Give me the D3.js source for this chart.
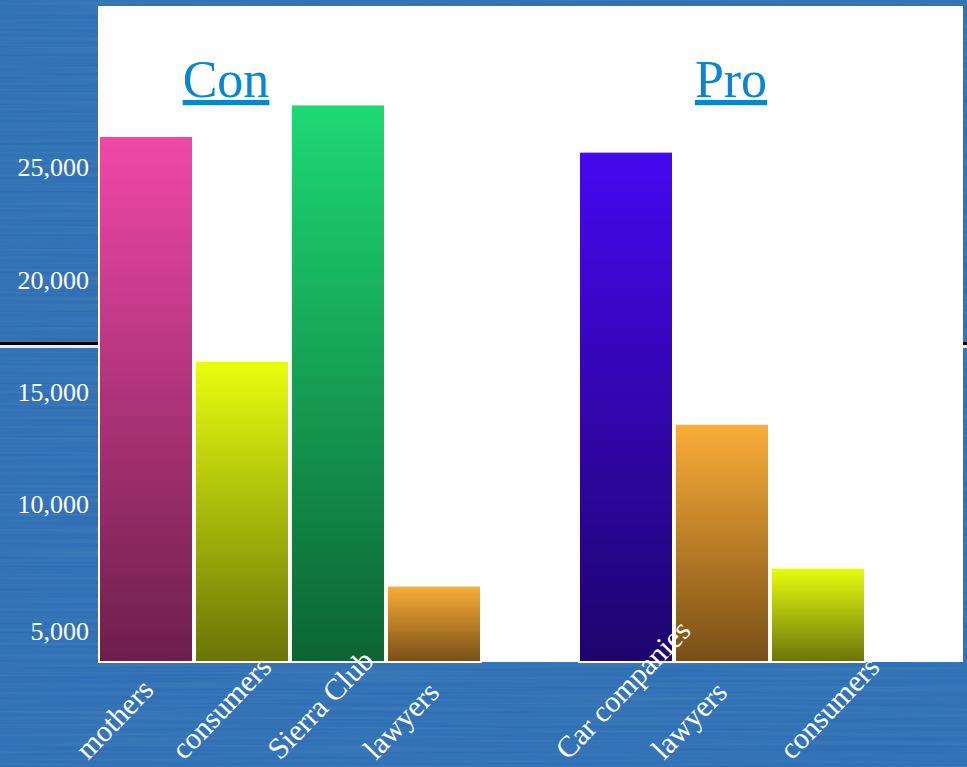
<!DOCTYPE html>
<html>
<head>
<meta charset="utf-8">
<script src="https://cdn.jsdelivr.net/npm/d3@7"></script>
<style>
  html, body { margin: 0; padding: 0; overflow: hidden; }
  svg { display: block; }
</style>
</head>
<body>
<div id="chart"></div>
<script>
// Chart data
const conLabels = ["mothers", "consumers", "Sierra Club", "lawyers"];
const conValues = [26400, 16400, 27800, 6400];
const conColors = ["pink", "yellow", "green", "orange"];

const proLabels = ["Car companies", "lawyers", "consumers"];
const proValues = [25700, 13600, 7200];
const proColors = ["purple", "orange", "yellow"];

const groupTitles = ["Con", "Pro"];
const yTicks = [5000, 10000, 15000, 20000, 25000];

// gradient stops (top, bottom) for each colour key
const gradients = {
    pink:   ["#f048a8", "#6c1f4b"],
    yellow: ["#e8ff0e", "#6a7408"],
    green:  ["#1ed974", "#0c6432"],
    orange: ["#fbae38", "#784e17"],
    purple: ["#4608f0", "#1e046c"]
};

const width = 967, height = 767;
const plot = { left: 98, right: 963, top: 6, bottom: 662 };

const svg = d3.select("#chart").append("svg")
    .attr("width", width)
    .attr("height", height);

const defs = svg.append("defs");

// streaky blue background texture
const tex = defs.append("filter").attr("id", "streaks")
    .attr("x", 0).attr("y", 0).attr("width", 1).attr("height", 1);
tex.append("feTurbulence")
    .attr("type", "fractalNoise")
    .attr("baseFrequency", "0.004 0.35")
    .attr("numOctaves", 2)
    .attr("seed", 3);
tex.append("feColorMatrix")
    .attr("type", "matrix")
    .attr("values", "0 0 0 0 0.1  0 0 0 0 0.3  0 0 0 0 0.55  0 0 0 0.9 -0.25");

Object.entries(gradients).forEach(([key, [top, bottom]]) => {
    const g = defs.append("linearGradient")
        .attr("id", "grad-" + key)
        .attr("x1", 0).attr("y1", 0).attr("x2", 0).attr("y2", 1);
    g.append("stop").attr("offset", "0%").attr("stop-color", top);
    g.append("stop").attr("offset", "100%").attr("stop-color", bottom);
});

// background
svg.append("rect").attr("width", width).attr("height", height).attr("fill", "#2f6fb4");
svg.append("rect").attr("width", width).attr("height", height)
    .attr("filter", "url(#streaks)").attr("opacity", 0.6);

// horizontal divider line behind the plot area
svg.append("rect").attr("x", 0).attr("y", 342).attr("width", width).attr("height", 3).attr("fill", "#000");
svg.append("rect").attr("x", 0).attr("y", 345).attr("width", width).attr("height", 3).attr("fill", "#e8eef6");

// plot area
svg.append("rect")
    .attr("x", plot.left).attr("y", plot.top)
    .attr("width", plot.right - plot.left)
    .attr("height", plot.bottom - plot.top)
    .attr("fill", "#fff");

// scales: 9 slots, gap after the Con group and at the end
const nSlots = conLabels.length + 1 + proLabels.length + 1;
const x = d3.scaleBand()
    .domain(d3.range(nSlots))
    .range([plot.left, plot.left + 96 * nSlots])
    .padding(0);

const y = d3.scaleLinear()
    .domain([3000, 32000])
    .range([plot.bottom, 10]);

const bars = conLabels.map((label, i) => ({ label, value: conValues[i], color: conColors[i], slot: i }))
    .concat(proLabels.map((label, i) => ({ label, value: proValues[i], color: proColors[i], slot: conLabels.length + 1 + i })));

// bars
svg.append("g")
    .selectAll("rect")
    .data(bars)
    .join("rect")
    .attr("x", d => x(d.slot) + 1)
    .attr("y", d => y(d.value))
    .attr("width", x.bandwidth() - 2)
    .attr("height", d => y(3000) - y(d.value))
    .attr("fill", d => "url(#grad-" + d.color + ")")
    .attr("stroke", "#fff")
    .attr("stroke-width", 2);

// y axis
const yAxis = svg.append("g")
    .attr("transform", `translate(${plot.left},0)`)
    .call(d3.axisLeft(y).tickValues(yTicks).tickSize(0).tickPadding(9).tickFormat(d3.format(",")));
yAxis.select(".domain").remove();
yAxis.selectAll("text")
    .attr("fill", "#fff")
    .attr("font-family", "'Liberation Serif', 'Times New Roman', serif")
    .attr("font-size", 26)
    .attr("dy", d => d === yTicks[0] ? "0.85em" : "0.32em");

// category labels, rotated
svg.append("g")
    .selectAll("text")
    .data(bars)
    .join("text")
    .attr("transform", (d, i) => {
        const lx = x(d.slot) + x.bandwidth() / 2 - 58 + (i === bars.length - 1 ? 32 : 0);
        return `translate(${lx},761) rotate(-46)`;
    })
    .attr("text-anchor", "start")
    .attr("fill", "#fff")
    .attr("font-family", "'Liberation Serif', 'Times New Roman', serif")
    .attr("font-size", 30)
    .text(d => d.label);

// group titles
const titleX = [226, 731];
svg.append("g")
    .selectAll("text")
    .data(groupTitles)
    .join("text")
    .attr("x", (d, i) => titleX[i])
    .attr("y", 97)
    .attr("text-anchor", "middle")
    .attr("fill", "#0886cf")
    .attr("font-family", "'Liberation Serif', 'Times New Roman', serif")
    .attr("font-size", 52)
    .attr("text-decoration", "underline")
    .text(d => d);
</script>
</body>
</html>
